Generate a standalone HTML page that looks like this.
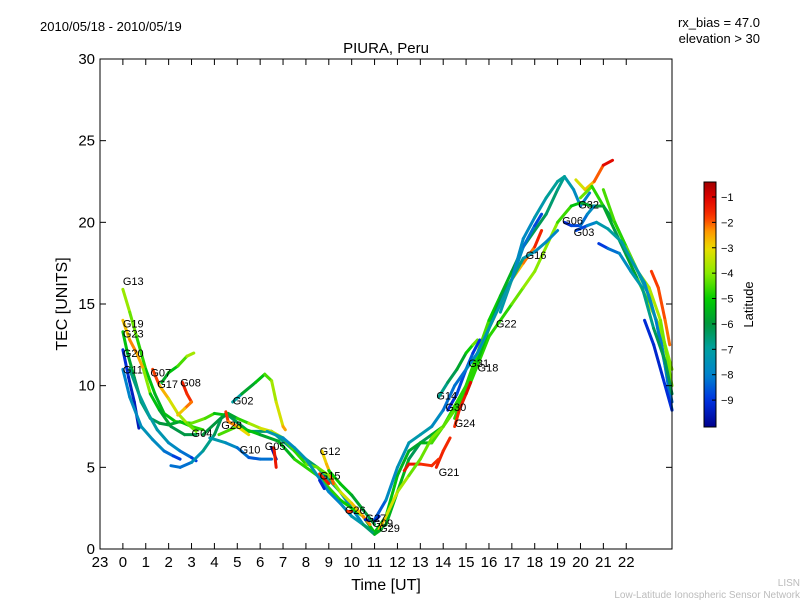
<!DOCTYPE html>
<html><head><meta charset="utf-8"><style>
body{margin:0;background:#fff;}
svg{display:block;font-family:"Liberation Sans","DejaVu Sans",sans-serif;}
</style></head><body>
<svg id="chart" width="800" height="600" viewBox="0 0 800 600" xmlns="http://www.w3.org/2000/svg">
<rect width="800" height="600" fill="#fff"/>
<text x="40" y="31" font-size="13">2010/05/18 - 2010/05/19</text>
<text x="760" y="27" font-size="13" text-anchor="end">rx_bias = 47.0</text>
<text x="760" y="43" font-size="13" text-anchor="end">elevation &gt; 30</text>
<text x="386" y="53" font-size="15" text-anchor="middle">PIURA, Peru</text>
<text transform="translate(67,304) rotate(-90)" font-size="16" text-anchor="middle">TEC [UNITS]</text>
<text x="386" y="590" font-size="16" text-anchor="middle">Time [UT]</text>
<text x="800" y="586" font-size="10" fill="#bbb" text-anchor="end">LISN</text>
<text x="800" y="598" font-size="10" fill="#bbb" text-anchor="end">Low-Latitude Ionospheric Sensor Network</text>
<g id="plot"></g>
<g id="cbar"></g>
</svg>
<script>
const xTicks=[-1,0,1,2,3,4,5,6,7,8,9,10,11,12,13,14,15,16,17,18,19,20,21,22];
const xTickLabels=["23","0","1","2","3","4","5","6","7","8","9","10","11","12","13","14","15","16","17","18","19","20","21","22"];
const yTicks=[0,5,10,15,20,25,30];
const cbTicks=[-1,-2,-3,-4,-5,-6,-7,-8,-9];
const tracks=[
[[3.5,7,-6],[4.5,8.3,-6],[5.5,7.2,-6.5],[6.5,7.2,-6.5],[7.5,6,-7],[8.5,5,-6],[9.5,3.5,-7.5],[10.5,1.5,-8],[11,1,-6],[11.5,1.5,-6],[12,3.5,-5],[12.5,5.5,-6],[13,6.5,-6.5],[13.5,7,-6],[14,7.5,-5],[15,10,-4.5],[15.5,12,-4],[16,14,-5],[16.5,15.5,-5],[17,17,-6],[17.5,18.5,-6],[18.5,20.5,-6.5],[19,22,-6.5],[19.3,22.8,-7],[19.7,22,-7.5],[20,21,-8],[20.4,21.8,-8]],
[[4.2,7,-4],[5,7.5,-5],[6,7,-5.5],[6.8,6.6,-6],[7.5,5.5,-5],[8.5,4.5,-4.5],[9.5,3,-5],[10.5,2,-5],[11,1,-5.5],[11.5,2,-5],[12,4.5,-5.5],[12.5,6,-5.5],[13,6.5,-6],[13.5,6.5,-5],[14,7.5,-4],[15,9.5,-4.5],[16,13,-5],[17,15,-4.5],[17.5,16,-4],[18,17,-3.8],[19,20,-4.2],[19.6,21,-5],[20,21.2,-5.5],[20.5,21,-6],[21,21,-6],[21.5,20,-6.5],[22,18.5,-6.5],[22.5,17,-7],[23,15.5,-7],[23.5,13,-7.5],[24,8.5,-8]],
[[19.8,22.6,-3.5],[20.2,22,-3],[20.6,22.5,-2.5],[21,23.5,-1.5],[21.4,23.8,-0.8]],
[[20,21.5,-4.5],[20.5,22.2,-4],[21,21,-5.5],[21.5,19.5,-6],[22,18,-6.5],[22.5,16.5,-5],[23,15,-4],[23.5,13.5,-3.5],[24,11,-4.5]],
[[21,22,-4],[21.5,20,-5],[22,18.5,-4.5],[22.5,17,-4],[23,16,-3.5],[23.5,14,-3.8],[24,10,-4.5]],
[[19.8,19.5,-9],[20.3,19.8,-8.5],[20.7,20,-7.5],[21.2,19.6,-7],[21.8,18.8,-7],[22.3,17.5,-7.2],[22.8,16.3,-7.5],[23.3,14,-8],[23.8,10.5,-8.2],[24,9,-8.5]],
[[20.8,18.7,-9.3],[21.2,18.4,-8.5],[21.7,18.1,-8],[22.2,17,-7.5],[22.7,16,-7],[23.2,13.5,-6.5],[23.7,11.5,-6],[24,9.5,-6.5]],
[[22.8,14,-9],[23.2,12.5,-9.3],[23.6,10.5,-9.2],[24,8.5,-9]],
[[23.1,17,-1.8],[23.4,16,-1.8],[23.7,14,-2],[23.9,12.5,-2.2]],
[[19.3,20,-9.5],[19.6,19.8,-9],[20,19.8,-8.5],[20.3,20.5,-8],[20.6,21,-7.5]],
[[16.5,14.5,-7],[17,16.5,-7.5],[17.5,18.5,-8],[18,19.8,-8.5],[18.3,20.5,-9]],
[[16,13.5,-3.5],[16.5,15,-3.2],[17,16.5,-2.8],[17.5,17.5,-2.5],[18,18.5,-1.8],[18.3,19.5,-1.3]],
[[14.5,8,-5],[15,10,-4.5],[15.5,11.5,-5],[16,13.5,-5.5],[16.5,15.3,-6],[17,16.5,-6.5],[17.5,17.8,-7],[18,18.2,-7.5],[18.5,18.8,-7.8],[19,19.5,-8]],
[[13.8,9.3,-7],[14.2,10.2,-6.5],[14.6,11,-6],[15,12,-5.5],[15.3,12.5,-4.5],[15.5,12.8,-4]],
[[14.2,8.5,-9.3],[14.6,9.5,-9],[15,11,-8.5],[15.3,12,-8.5],[15.6,12.8,-9.5]],
[[14.5,7.5,-1.8],[14.7,8.5,-1.5],[15,9.5,-1.3],[15.2,10.2,-1]],
[[13.7,5,-1.5],[14,6,-1.5],[14.3,6.8,-1.7]],
[[12.3,4.8,-1.5],[12.5,5.2,-1.2],[13,5.2,-1.5],[13.5,5.1,-1.8],[13.8,5.5,-1.5]],
[[11.2,1.2,-2.5],[11.5,2,-3],[12,3.5,-3.5],[12.5,4.5,-4],[13,5.5,-4.5],[13.5,6.8,-4],[14,7.5,-4.2],[14.5,8.5,-4.5],[15,10,-5],[15.5,12,-4.5],[16,13.5,-4]],
[[11,1.8,-9],[11.5,3,-8],[12,5,-7.5],[12.5,6.5,-7.5],[13,7,-7],[13.5,7.5,-7.5],[14,8.5,-8],[14.5,10,-8.5],[15,11,-8],[15.5,12,-7.5],[16,13.5,-7.5],[16.5,15,-7],[17,16.5,-7.5],[17.5,19,-8],[18,20.3,-7.5],[18.5,21.5,-7],[19,22.5,-6.8],[19.3,22.8,-7]],
[[0,15.9,-3.7],[0.3,14.5,-4],[0.6,13,-4.5],[1,11,-5],[1.4,9.5,-5.5],[1.8,8.3,-5.5],[2.3,7.8,-5],[3,7.7,-4.5],[3.6,8,-4],[4,8.3,-5],[4.5,8.2,-5.5]],
[[0,14,-3],[0.3,12.8,-2.5],[0.6,12,-2],[0.9,11,-3],[1.2,9.5,-5],[1.6,8.5,-5.5],[2.1,7.5,-6],[2.7,7,-6.2],[3.2,7,-6]],
[[0,13.3,-5],[0.2,12,-5.5],[0.5,10.5,-6],[0.8,9,-6.5],[1.2,8,-6.5],[1.6,7.7,-6],[2,7.6,-6],[2.5,7.8,-5.5],[3,7.5,-5],[3.5,7.3,-4.5]],
[[0,12.2,-9],[0.25,10.5,-9.3],[0.5,9,-9.5],[0.7,7.4,-9.5]],
[[0,11,-8],[0.3,9.3,-8],[0.8,7.5,-7.5],[1.3,6.7,-7.5],[1.8,6,-8],[2.2,5.7,-8.5],[2.5,5.5,-9.2]],
[[0.3,11,-6.5],[0.7,9.5,-6.8],[1.1,8.3,-7],[1.5,7.3,-7.2],[2,6.5,-7.5],[2.5,6,-8],[3,5.6,-8.5],[3.2,5.4,-9.3]],
[[1.3,11,-1.5],[1.6,10,-2.2],[2,9.2,-3],[2.4,8.3,-3.5],[2.8,7.7,-4],[3.2,7.2,-4.5]],
[[1.7,10.2,-5.8],[2,10.8,-5.5],[2.4,11.2,-5],[2.8,11.8,-4],[3.1,12,-3.5]],
[[2.6,10.2,-1.5],[2.8,9.5,-1.5],[3,9,-1.8],[2.7,8.6,-2.5],[2.4,8.2,-3]],
[[2.1,5.1,-8],[2.5,5,-8.5],[3,5.3,-8],[3.5,6,-7],[4,7,-6.5],[4.3,8,-6],[4.6,8.3,-6],[5,8,-5.5],[5.5,7.7,-4],[6,7.4,-3.5],[6.5,7.2,-3],[7,6.8,-4],[7.5,6,-5],[8,5.2,-4.5],[8.5,5,-4],[9,4.5,-4.5],[9.5,3.5,-3.5],[10,2.8,-3],[10.5,2,-2.5],[10.8,1.5,-2]],
[[4.8,9,-8],[5.2,9.5,-6],[5.8,10.2,-5.5],[6.2,10.7,-5],[6.5,10.3,-4],[6.7,9,-3.5],[7,7.5,-3],[7.1,7.3,-2]],
[[4.5,8.4,-1.5],[4.6,7.8,-2],[5,7.5,-2.5],[5.5,7,-3.5]],
[[3.8,6.8,-7],[4.5,6.5,-7.5],[5,6.2,-8],[5.5,5.6,-8.5],[6,5.5,-8.5],[6.5,5.5,-8]],
[[6.5,6.2,-9.5],[6.7,5.5,-9.8]],
[[6.6,6.2,-1.5],[6.7,5,-1.2]],
[[6.3,7.2,-7],[7,6.8,-7.5],[7.5,6.2,-8],[8,5.5,-7],[8.5,4.5,-7.5],[9,3.5,-8],[9.5,2.8,-8],[10,2,-7.5],[10.5,1.5,-7],[11,0.9,-6],[11.3,1.2,-5]],
[[8.7,6,-3],[8.9,5.2,-2.8],[9.1,4.5,-2.5],[9.2,4,-1.5]],
[[8.6,4.6,-1.8],[8.8,4.3,-1.5],[9,4,-1.3]],
[[8.6,4.2,-9],[8.8,3.7,-9.5]],
[[9.8,2.3,-1.8],[10,2.3,-1.5]],
[[10.6,1.8,-9.5],[11,1.7,-9.5],[11.2,2,-9.2]],
[[9,4.8,-5],[9.5,4,-5],[10,3.3,-5.5],[10.5,2.4,-6],[11,1.5,-6]]
];
const prnNames=["G13","G19","G23","G20","G11","G07","G17","G08","G02","G04","G28","G10","G05","G12","G15","G26","G27","G09","G29","G14","G30","G24","G21","G31","G18","G22","G16","G06","G03","G32"];
const prnHours=[0,0,0,0,0,1.2,1.5,2.5,4.8,3,4.3,5.1,6.2,8.6,8.6,9.7,10.6,10.9,11.2,13.7,14.1,14.5,13.8,15.1,15.5,16.3,17.6,19.2,19.7,19.9];
const prnTec=[16.4,13.8,13.2,12,11,10.8,10.1,10.2,9.1,7.1,7.6,6.1,6.3,6,4.5,2.4,1.9,1.6,1.3,9.4,8.7,7.7,4.7,11.4,11.1,13.8,18,20.1,19.4,21.1];

const NS="http://www.w3.org/2000/svg";
const L=100,R=672,T=59,B=549,XMIN=-1,XMAX=24,YMIN=0,YMAX=30,CMIN=-10.06,CMAX=-0.41;
const xs=v=>L+(v-XMIN)/(XMAX-XMIN)*(R-L);
const ys=v=>B-(v-YMIN)/(YMAX-YMIN)*(B-T);
const cmapStops=[[0,[0,0,140]],[0.11,[0,50,225]],[0.21,[0,130,205]],[0.32,[0,160,160]],[0.42,[0,150,60]],[0.52,[0,205,0]],[0.63,[140,235,0]],[0.73,[235,220,0]],[0.8,[255,150,0]],[0.86,[250,50,0]],[0.94,[220,0,0]],[1,[160,0,0]]];
function cmap(t){t=Math.max(0,Math.min(1,t));
 for(let i=0;i<cmapStops.length-1;i++){const a=cmapStops[i],b=cmapStops[i+1];
  if(t<=b[0]){const f=(t-a[0])/(b[0]-a[0]);const c=a[1].map((v,k)=>Math.round(v+(b[1][k]-v)*f));return `rgb(${c[0]},${c[1]},${c[2]})`;}}
 return 'rgb(160,0,0)';}
const cs=lat=>cmap((lat-CMIN)/(CMAX-CMIN));
function el(tag,attrs,parent){const e=document.createElementNS(NS,tag);for(const k in attrs)e.setAttribute(k,attrs[k]);parent.appendChild(e);return e;}
const plot=document.getElementById('plot');
tracks.forEach((tr,ti)=>{
 const g=el('g',{},plot);
 
 
 for(let i=0;i<tr.length-1;i++){
  const a=tr[i],b=tr[i+1];
  const ln=el('line',{x1:xs(a[0]),y1:ys(a[1]),x2:xs(b[0]),y2:ys(b[1]),stroke:cs((a[2]+b[2])/2),'stroke-width':3,'stroke-linecap':'round'},g);
  
  
 }
});
prnNames.forEach((n,i)=>{
 const t=el('text',{x:xs(prnHours[i]),y:ys(prnTec[i])+4,'font-size':11},plot);
 
 
 t.textContent=n;
});
const frame=el('rect',{x:L,y:T,width:R-L,height:B-T,fill:'none',stroke:'#000','stroke-width':1},plot);


xTicks.forEach((v,i)=>{
 const x=xs(v);
 el('line',{x1:x,y1:B,x2:x,y2:B-6,stroke:'#000'},plot);
 el('line',{x1:x,y1:T,x2:x,y2:T+6,stroke:'#000'},plot);
 const t=el('text',{x:x,y:B+18,'font-size':15,'text-anchor':'middle'},plot);
 
 
 t.textContent=xTickLabels[i];
});
yTicks.forEach(v=>{
 const y=ys(v);
 el('line',{x1:L,y1:y,x2:L+6,y2:y,stroke:'#000'},plot);
 el('line',{x1:R,y1:y,x2:R-6,y2:y,stroke:'#000'},plot);
 const t=el('text',{x:L-5,y:y+5,'font-size':15,'text-anchor':'end'},plot);
 
 
 t.textContent=v;
});
const cb=document.getElementById('cbar');
const CL=704,CR=716,CT=182,CB=427;
const defs=el('defs',{},cb);
const gr=el('linearGradient',{id:'cmapg',x1:0,y1:1,x2:0,y2:0},defs);
for(let i=0;i<=40;i++)el('stop',{offset:i/40,'stop-color':cmap(i/40)},gr);
const cr=el('rect',{x:CL,y:CT,width:CR-CL,height:CB-CT,fill:'url(#cmapg)',stroke:'#000','stroke-width':1},cb);


const cy=v=>CB-(v-CMIN)/(CMAX-CMIN)*(CB-CT);
cbTicks.forEach(v=>{
 const y=cy(v);
 el('line',{x1:CR-4,y1:y,x2:CR,y2:y,stroke:'#000'},cb);
 const t=el('text',{x:CR+5,y:y+4,'font-size':11},cb);
 
 
 t.textContent=String(v).replace('-','\u2212');
});
const cl=el('text',{transform:`translate(753,${(CT+CB)/2}) rotate(-90)`,'font-size':13,'text-anchor':'middle'},cb);


cl.textContent='Latitude';
</script>
</body></html>
